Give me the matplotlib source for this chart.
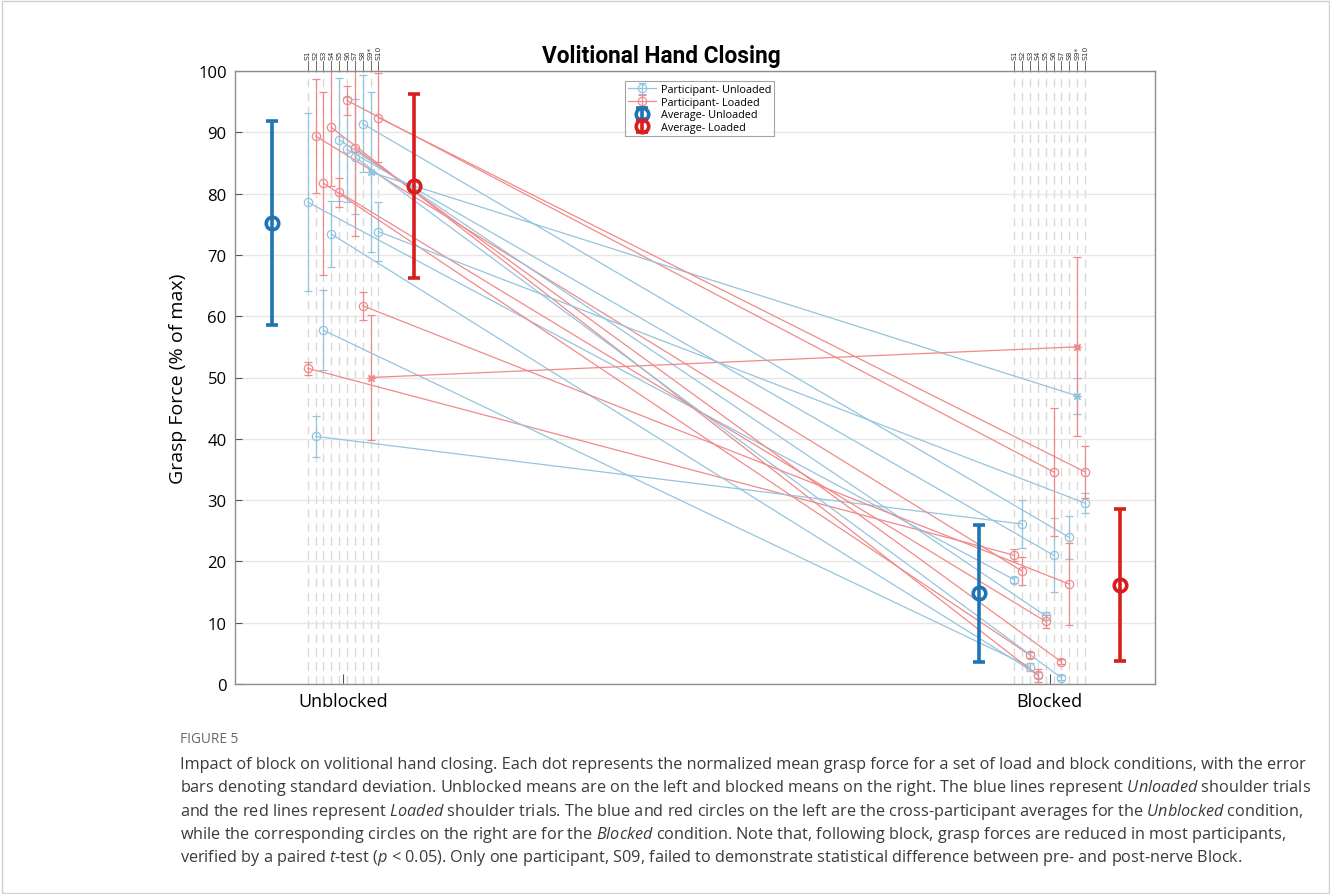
import numpy as np
import matplotlib
matplotlib.use("Agg")
import matplotlib.pyplot as plt
from matplotlib.transforms import blended_transform_factory
from matplotlib.patches import Rectangle

plt.rcParams["font.family"] = ["Open Sans", "DejaVu Sans"]
plt.rcParams["mathtext.fontset"] = "custom"
plt.rcParams["mathtext.it"] = "Open Sans:italic"
plt.rcParams["mathtext.rm"] = "Open Sans"

# ---- data -------------------------------------------------------------
subjects = ["S1", "S2", "S3", "S4", "S5", "S6", "S7", "S8", "S9*", "S10"]
conditions = ["Unblocked", "Blocked"]

unloaded_pre = [78.6, 40.4, 57.7, 73.4, 88.8, 87.2, 86.0, 91.4, 83.5, 73.8]
unloaded_pre_sd = [14.5, 3.4, 6.5, 5.4, 10.0, 8.5, 9.4, 7.9, 13.1, 4.8]
loaded_pre = [51.5, 89.4, 81.7, 90.8, 80.2, 95.2, 87.4, 61.7, 50.0, 92.4]
loaded_pre_sd = [1.1, 9.3, 14.9, 9.5, 2.4, 2.4, 14.3, 2.3, 10.2, 7.2]

unloaded_post = [17.0, 26.1, 2.8, 1.5, 11.1, 21.0, 1.0, 23.9, 47.0, 29.5]
unloaded_post_sd = [0.5, 3.9, 0.6, 0.5, 0.6, 6.0, 0.4, 3.5, 2.9, 1.6]
loaded_post = [21.0, 18.4, 4.7, 1.4, 10.2, 34.6, 3.6, 16.3, 55.0, 34.6]
loaded_post_sd = [1.0, 2.3, 0.5, 1.0, 1.1, 10.4, 0.4, 6.7, 14.6, 4.3]

avg_unloaded = [75.2, 14.8]
avg_unloaded_sd = [16.7, 11.2]
avg_loaded = [81.2, 16.1]
avg_loaded_sd = [15.0, 12.4]

# ---- styling ----------------------------------------------------------
c_unl = "#95c4de"
c_lod = "#f08a8a"
c_avg_unl = "#1f74b4"
c_avg_lod = "#d81e1e"

W, H = 1330, 895
fig = plt.figure(figsize=(W / 100, H / 100), dpi=100)
ax = fig.add_axes([235 / W, 1 - 685 / H, 920 / W, 613 / H])

n = len(subjects)
offsets = np.linspace(-0.05, 0.05, n)
cond_x = np.array([1.0, 2.0])

# subject guide lines
for cx in cond_x:
    for o in offsets:
        ax.axvline(cx + o, color="#d9d9d9", lw=1.0, ls=(0, (6, 4)), zorder=0.5)

ax.set_axisbelow(True)
ax.yaxis.grid(True, color="#e6e6e6", lw=1.0)

ek = dict(capsize=2.8, elinewidth=0.9, capthick=0.9, lw=0.9,
          markersize=6, mfc="none", mew=0.9)

h_unl = h_lod = None
for i in range(n):
    xs = cond_x + offsets[i]
    mk = (8, 2, 0) if subjects[i].endswith("*") else "o"
    h_unl = ax.errorbar(xs, [unloaded_pre[i], unloaded_post[i]],
                        yerr=[unloaded_pre_sd[i], unloaded_post_sd[i]],
                        color=c_unl, marker=mk, zorder=2, **ek)
    h_lod = ax.errorbar(xs, [loaded_pre[i], loaded_post[i]],
                        yerr=[loaded_pre_sd[i], loaded_post_sd[i]],
                        color=c_lod, marker=mk, zorder=2, **ek)

ak = dict(capsize=4.2, elinewidth=2.6, capthick=2.6, ls="none",
          marker="o", markersize=9, mfc="none", mew=2.6, zorder=4)
h_aunl = ax.errorbar(cond_x - 0.1, avg_unloaded, yerr=avg_unloaded_sd,
                     color=c_avg_unl, **ak)
h_alod = ax.errorbar(cond_x + 0.1, avg_loaded, yerr=avg_loaded_sd,
                     color=c_avg_lod, **ak)

# participant labels along the top edge
trans = blended_transform_factory(ax.transData, ax.transAxes)
for cx in cond_x:
    for o, s in zip(offsets, subjects):
        ax.plot([cx + o, cx + o], [1.0, 1.017], transform=trans,
                color="#555555", lw=0.6, clip_on=False)
        ax.text(cx + o, 1.019, s, transform=trans, rotation=90,
                ha="center", va="bottom", fontsize=5.4, color="#333333",
                family="DejaVu Sans")

ax.set_xlim(0.847, 2.149)
ax.set_ylim(0, 100)
ax.set_yticks(np.arange(0, 101, 10))
ax.set_xticks(cond_x)
ax.set_xticklabels(conditions, fontsize=13)
ax.tick_params(axis="y", labelsize=12, direction="in", length=5,
               color="#555555", pad=6)
ax.tick_params(axis="x", direction="in", length=7, color="#555555", pad=6)
for sp in ax.spines.values():
    sp.set_color("#8c8c8c")
    sp.set_linewidth(1.0)
ax.set_ylabel("Grasp Force (% of max)", fontsize=14, labelpad=8)

leg = ax.legend([h_unl, h_lod, h_aunl, h_alod],
                ["Participant- Unloaded", "Participant- Loaded",
                 "Average- Unloaded", "Average- Loaded"],
                loc="upper center", bbox_to_anchor=(0.505, 0.984),
                fontsize=7.8, frameon=True, fancybox=False,
                handlelength=2.6, handletextpad=0.4, labelspacing=0.15,
                borderpad=0.3, borderaxespad=0)
leg.get_frame().set_edgecolor("#8c8c8c")
leg.get_frame().set_linewidth(0.8)

fig.text(661 / W, 1 - 57 / H, "Volitional Hand Closing", ha="center",
         va="center", fontsize=16.3, fontweight="bold",
         family=["Liberation Sans Narrow", "Roboto", "DejaVu Sans"])

# caption
fig.text(180 / W, 1 - 740 / H, "FIGURE 5", fontsize=9.8, color="#666666",
         va="center", ha="left")
caption = [
    "Impact of block on volitional hand closing. Each dot represents the normalized mean grasp force for a set of load and block conditions, with the error",
    "bars denoting standard deviation. Unblocked means are on the left and blocked means on the right. The blue lines represent $Unloaded$ shoulder trials",
    "and the red lines represent $Loaded$ shoulder trials. The blue and red circles on the left are the cross-participant averages for the $Unblocked$ condition,",
    "while the corresponding circles on the right are for the $Blocked$ condition. Note that, following block, grasp forces are reduced in most participants,",
    "verified by a paired $t$-test ($p$ < 0.05). Only one participant, S09, failed to demonstrate statistical difference between pre- and post-nerve Block.",
]
for k, line in enumerate(caption):
    fig.text(180 / W, 1 - (765 + 23.3 * k) / H, line, fontsize=11.7,
             color="#3a3a3a", va="center", ha="left")

fig.patches.append(Rectangle((1.5 / W, 1.5 / H), 1 - 3 / W, 1 - 3 / H,
                             transform=fig.transFigure, fill=False,
                             edgecolor="#cfcfcf", lw=1.0))

fig.savefig("out.png", dpi=100)
